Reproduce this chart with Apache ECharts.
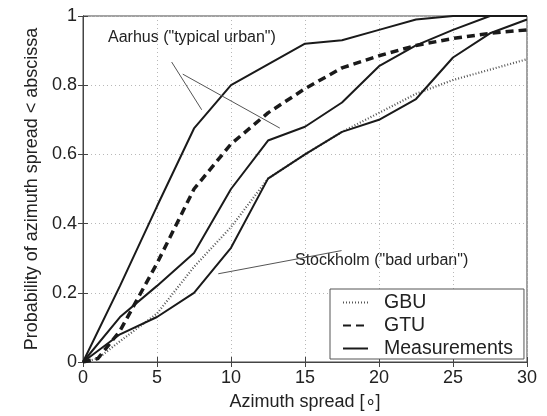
<!DOCTYPE html>
<html>
<head>
<meta charset="utf-8">
<script src="https://cdn.jsdelivr.net/npm/echarts@6/dist/echarts.min.js"></script>
<style>
html,body{margin:0;padding:0;background:#fff;}
#c{width:547px;height:416px;}
</style>
</head>
<body>
<div id="c"></div>
<script>
// ---- data ----
const spreadMeas = [0, 2.5, 5, 7.5, 10, 12.5, 15, 17.5, 20, 22.5, 25, 27.5, 30];
const aarhusUpper = [0, 0.22, 0.45, 0.675, 0.80, 0.86, 0.92, 0.93, 0.96, 0.99, 1.0, 1.0, 1.0];
const aarhusLower = [0, 0.13, 0.22, 0.315, 0.50, 0.64, 0.68, 0.75, 0.855, 0.915, 0.96, 1.0, 1.0];
const stockholm   = [0, 0.08, 0.13, 0.20, 0.33, 0.53, 0.60, 0.665, 0.70, 0.76, 0.88, 0.95, 0.99];
const spreadModel = [0, 1, 2.5, 5, 7.5, 10, 12.5, 15, 17.5, 20, 22.5, 25, 27.5, 30];
const gtu = [0, 0.01, 0.09, 0.285, 0.50, 0.63, 0.72, 0.79, 0.85, 0.885, 0.915, 0.935, 0.95, 0.96];
const gbu = [0, 0.01, 0.06, 0.14, 0.275, 0.39, 0.53, 0.60, 0.665, 0.72, 0.775, 0.815, 0.845, 0.875];
const xTicks = [0, 5, 10, 15, 20, 25, 30];
const yTicks = [0, 0.2, 0.4, 0.6, 0.8, 1];
const legendNames = ['GBU', 'GTU', 'Measurements'];
// annotation pointers in data coordinates [from, to]
const aarhusPointers = [[[5.99, 0.867], [8.02, 0.729]], [[6.74, 0.832], [13.3, 0.676]]];
const stockholmPointers = [[[17.47, 0.322], [9.14, 0.255]]];

const pair = (xs, ys) => xs.map((x, i) => [x, ys[i]]);

const chart = echarts.init(document.getElementById('c'), null, {renderer: 'canvas'});
const font = 'Liberation Sans, Arial, Helvetica, sans-serif';
const ink = '#222';

const gridLine = {show: true, lineStyle: {color: '#b8b8b8', type: [1, 3], width: 1}};
const baseAxis = {
  axisLine: {show: true, lineStyle: {color: '#444', width: 1}},
  axisTick: {show: true, inside: true, length: 5, lineStyle: {color: '#444'}},
};

const pointerData = aarhusPointers.concat(stockholmPointers).map(p => [{coord: p[0]}, {coord: p[1]}]);

chart.setOption({
  animation: false,
  backgroundColor: '#fff',
  color: ['#555', '#1a1a1a', '#1a1a1a'],
  grid: {left: 83, right: 20, top: 16, bottom: 52, show: true, borderColor: '#444', borderWidth: 1, backgroundColor: 'transparent'},
  xAxis: [{
    type: 'value', min: xTicks[0], max: xTicks[xTicks.length - 1], interval: 5,
    name: 'Azimuth spread [\u2218]', nameLocation: 'middle', nameGap: 31,
    nameTextStyle: {fontFamily: font, fontSize: 18, color: ink},
    axisLabel: {fontFamily: font, fontSize: 18, color: ink, margin: 7},
    splitLine: gridLine, ...baseAxis
  }, {
    type: 'value', position: 'top', min: 0, max: 30, interval: 5,
    axisLabel: {show: false}, splitLine: {show: false}, ...baseAxis
  }],
  yAxis: [{
    type: 'value', min: yTicks[0], max: yTicks[yTicks.length - 1], interval: 0.2,
    name: 'Probability of azimuth spread < abscissa', nameLocation: 'middle', nameGap: 38,
    nameTextStyle: {fontFamily: font, fontSize: 18, color: ink},
    axisLabel: {fontFamily: font, fontSize: 18, color: ink, margin: 6},
    splitLine: gridLine, ...baseAxis
  }, {
    type: 'value', position: 'right', min: 0, max: 1, interval: 0.2,
    axisLabel: {show: false}, splitLine: {show: false}, ...baseAxis
  }],
  legend: {
    data: legendNames, orient: 'vertical', left: 330, top: 289,
    backgroundColor: '#fff', borderColor: '#555', borderWidth: 1,
    padding: [3, 11, 0, 12], itemGap: 2, itemWidth: 25, itemHeight: 14,
    itemStyle: {opacity: 0},
    textStyle: {fontFamily: font, fontSize: 19.5, color: ink, lineHeight: 21, padding: [0, 0, 0, 11]}
  },
  graphic: [
    {type: 'text', left: 108, top: 30, style: {text: 'Aarhus ("typical urban")', font: '16px ' + font, fill: ink}},
    {type: 'text', left: 295, top: 253, style: {text: 'Stockholm ("bad urban")', font: '16px ' + font, fill: ink}}
  ],
  series: [
    {name: 'GBU', type: 'line', data: pair(spreadModel, gbu), symbol: 'none', z: 2,
     itemStyle: {color: '#555'},
     lineStyle: {color: '#555', width: 2.2, type: [1, 2]}},
    {name: 'GTU', type: 'line', data: pair(spreadModel, gtu), symbol: 'none', z: 3,
     itemStyle: {color: '#1a1a1a'},
     lineStyle: {color: '#1a1a1a', width: 3.5, type: [8, 5]}},
    {name: 'Measurements', type: 'line', data: pair(spreadMeas, aarhusUpper), symbol: 'none', z: 4,
     itemStyle: {color: '#1a1a1a'},
     lineStyle: {color: '#1a1a1a', width: 2}},
    {name: 'Measurements', type: 'line', data: pair(spreadMeas, aarhusLower), symbol: 'none', z: 4,
     itemStyle: {color: '#1a1a1a'},
     lineStyle: {color: '#1a1a1a', width: 2}},
    {name: 'Measurements', type: 'line', data: pair(spreadMeas, stockholm), symbol: 'none', z: 4,
     itemStyle: {color: '#1a1a1a'},
     lineStyle: {color: '#1a1a1a', width: 2},
     markLine: {silent: true, symbol: ['none', 'none'], label: {show: false},
       lineStyle: {color: '#555', width: 1, type: 'solid'}, data: pointerData}}
  ]
});
</script>
</body>
</html>
